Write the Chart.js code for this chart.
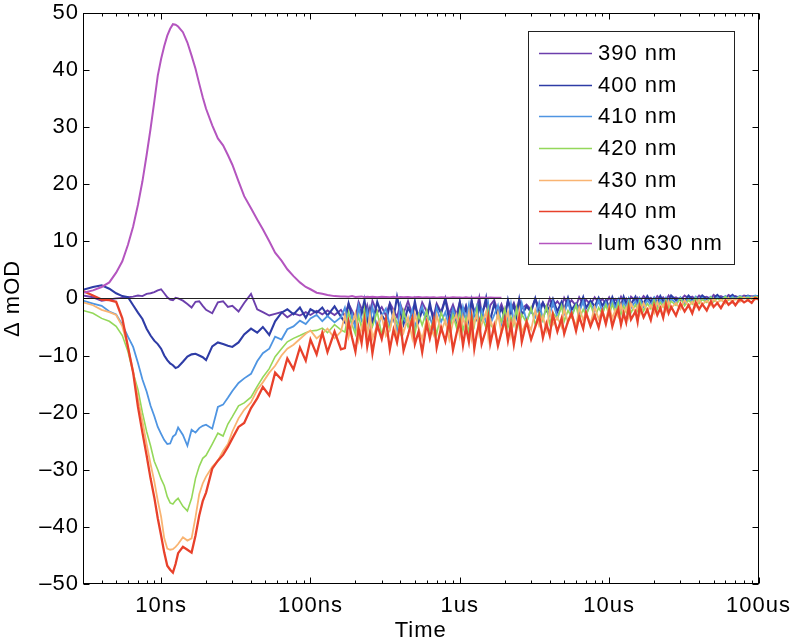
<!DOCTYPE html>
<html><head><meta charset="utf-8">
<script src="https://cdn.jsdelivr.net/npm/chart.js@4"></script>
<style>html,body{margin:0;padding:0;background:#fff}canvas{display:block}</style>
</head><body>
<canvas id="c" width="800" height="642"></canvas>
<script>
// time axis (ns)
const times = [3,3.5,4,4.5,5,5.5,6,6.5,7,7.5,8,8.5,9,9.5,10,10.5,11,11.5,12,12.5,13,14,15,16,17,18,19,20,22,24,26,28,30,33,36,40,44,48,53,58,64,70,77,85,93,100,110,120,130,145,160,
170,180,190,200,210,220,230,240,250,260,280,300,320,340,360,380,400,420,450,480,500,530,560,600,630,670,700,750,800,850,900,950,
1000,1050,1100,1150,1200,1250,1300,1350,1400,1500,1550,1600,1700,1800,1900,2000,2100,2200,2300,2400,2500,2600,2800,3000,3200,3400,3600,3800,4000,4200,4500,4800,5000,5300,5600,6000,6300,6700,7000,7500,8000,8500,9000,9500,
10000,10500,11000,11500,12000,12500,13000,13500,14000,15000,15500,16000,17000,18000,19000,20000,21000,22000,23000,24000,25000,26000,28000,30000,32000,34000,36000,38000,40000,42000,45000,48000,50000,53000,56000,60000,63000,67000,70000,75000,80000,85000,90000,95000,
100000];

const nm390 = [0.5,0.2,-0.4,-0.2,0,0.1,0.2,0.3,0.5,0.4,0.8,0.9,1.1,1.4,1.6,0.9,0.2,-0.2,-0.3,0.1,0.0,-0.4,-1.0,-1.6,-0.6,-0.5,-1.3,-2.0,-2.6,-0.7,-0.5,-1.5,-1.3,-2.3,-0.8,0.8,-1.9,-2.4,-3.0,-2.7,-2.4,-3.3,-2.6,-3.0,-2.4,-2.9,-2.2,-2.8,-2.1,-2.9,-2.0,
-3.1,-0.9,-2.2,-3.4,-0.6,-1.8,-2.9,-1.2,-3.2,-0.4,-2.5,-1.5,-3.0,-0.8,-2.0,-3.3,-1.0,-2.6,-0.5,-2.8,-1.4,-3.1,-0.7,-2.3,-1.7,-3.0,-0.9,-2.4,0.1,-2.7,-1.1,-2.9,
-0.6,-2.7,-1.3,-3.0,-0.5,-2.2,-1.6,0.2,-2.5,-0.9,-2.8,-1.2,-0.3,-2.4,-1.0,-2.6,-0.4,-1.9,-0.8,-2.3,-0.2,-1.8,-1.1,-2.0,-0.1,-1.6,-0.7,-1.9,0.0,-1.4,-0.5,-1.5,0.1,-1.2,-0.3,-1.3,0.2,-1.0,-0.2,-1.1,0.2,-0.8,-0.1,-0.9,
0.2,-0.9,-0.1,-0.7,0.3,-0.6,0.0,-0.8,0.3,-0.4,0.1,-0.6,0.4,-0.3,0.1,-0.5,0.4,-0.2,0.2,-0.4,0.5,-0.1,0.2,-0.3,0.5,0.0,0.3,-0.2,0.5,0.1,0.3,-0.1,0.6,0.1,0.4,0.0,0.6,0.2,0.4,0.1,0.5,0.3,0.4,0.3,
0.4];

const nm400 = [1.5,2.0,2.3,1.7,0.9,0.4,0.2,-1.2,-2.5,-3.6,-5.3,-6.5,-7.4,-8.0,-8.8,-10.0,-10.8,-11.4,-11.7,-12.2,-12.0,-11.1,-10.2,-9.8,-9.7,-10.0,-10.3,-10.8,-8.4,-7.7,-8.0,-8.3,-8.5,-7.7,-6.3,-5.3,-6.0,-5.0,-6.4,-4.0,-2.5,-1.9,-2.8,-1.6,-3.4,-1.9,-2.5,-1.6,-3.0,-1.4,-3.2,
-4.2,-0.9,-3.3,-4.6,-1.4,-2.7,-0.3,-3.9,-1.8,-4.4,-0.6,-2.9,-4.1,-1.1,-3.5,0.3,-2.4,-4.5,-1.6,-3.1,-0.5,-4.0,-2.0,-3.7,-0.8,-4.3,-1.3,-2.6,-0.2,-3.8,-1.9,-4.1,
-0.7,-3.6,-1.5,-4.0,-0.4,-2.8,-3.7,-1.0,-3.3,0.1,-2.5,-3.8,-0.9,-3.1,-1.7,-3.5,-0.3,-2.6,-1.2,-3.2,-0.2,-2.9,-1.4,-2.4,0.0,-2.7,-0.8,-2.2,-1.5,-0.1,-2.3,-0.6,-1.9,0.1,-2.0,-0.9,-1.6,0.2,-1.7,-0.4,-1.4,0.1,-1.3,-0.3,
-1.4,0.2,-1.1,-0.2,-1.2,0.3,-0.9,-0.1,-1.0,0.3,-0.8,0.0,-0.9,0.4,-0.6,0.1,-0.7,0.4,-0.5,0.0,-0.5,0.5,-0.3,0.1,-0.4,0.5,-0.2,0.2,-0.2,0.5,-0.1,0.2,0.0,0.6,0.0,0.3,0.1,0.6,0.1,0.3,0.2,0.5,0.2,0.4,
0.4];

const nm410 = [-0.4,-0.9,-1.3,-2.3,-2.8,-4.6,-6.7,-8.5,-11.3,-14.2,-16.3,-18.8,-20.6,-22.5,-23.7,-24.8,-25.5,-25.4,-24.2,-23.8,-22.6,-23.9,-25.8,-23.0,-23.5,-22.7,-22.3,-22.1,-22.8,-19.0,-18.6,-17.4,-16.2,-14.8,-14.0,-13.2,-11.0,-9.6,-8.8,-6.7,-7.2,-5.4,-4.9,-3.9,-4.5,-3.5,-2.9,-4.0,-3.1,-4.2,-3.3,
-1.6,-4.9,-2.8,-5.5,-1.3,-3.9,-5.1,-2.2,-4.4,-1.5,-5.3,-3.0,-1.8,-4.7,-2.5,-5.6,-1.2,-3.6,-4.8,-2.0,-5.0,-2.9,-1.4,-4.5,-3.3,-5.4,-1.7,-4.1,-2.4,-5.2,-1.9,-3.7,
-5.0,-1.5,-3.8,-1.1,-4.7,-2.6,-1.3,-4.9,-2.0,-4.2,-1.0,-4.5,-2.9,-1.2,-4.4,-2.2,-3.9,-0.9,-4.1,-1.8,-3.6,-0.8,-3.9,-2.1,-3.3,-0.7,-3.7,-1.5,-3.0,-0.6,-3.4,-1.3,-2.7,-0.5,-3.0,-1.1,-2.5,-0.4,-2.8,-0.9,-2.2,-0.3,-2.4,-0.7,
-2.1,-0.4,-1.8,-0.2,-2.0,-0.6,-1.6,-0.1,-1.7,-0.5,-1.4,0.0,-1.5,-0.3,-1.2,0.1,-1.3,-0.2,-1.0,0.1,-1.1,-0.1,-0.8,0.2,-0.9,0.0,-0.6,0.3,-0.7,0.1,-0.5,0.3,-0.4,0.2,-0.3,0.4,-0.2,0.3,-0.1,0.4,0.0,0.4,0.1,0.5,
0.3];

const nm420 = [-2.1,-2.6,-3.5,-4.0,-4.9,-6.5,-9.3,-13.0,-16.0,-20.0,-23.3,-25.8,-28.5,-30.0,-31.6,-32.8,-34.7,-35.8,-36.0,-35.4,-35.0,-36.4,-37.2,-35.0,-31.5,-29.4,-28.0,-27.5,-25.5,-23.6,-24.1,-22.0,-20.7,-18.8,-18.3,-17.3,-15.4,-13.8,-12.3,-10.2,-8.8,-7.6,-7.0,-6.5,-6.0,-5.7,-5.6,-5.2,-6.0,-4.6,-5.5,
-5.9,-2.4,-4.6,-6.3,-3.1,-5.2,-2.0,-6.0,-3.8,-4.9,-2.3,-6.4,-3.5,-5.5,-2.6,-4.3,-6.1,-2.2,-5.0,-3.3,-6.2,-2.8,-4.7,-2.1,-5.7,-3.6,-6.3,-2.5,-4.4,-5.8,-2.9,-5.1,
-2.2,-5.6,-3.4,-6.0,-2.7,-4.8,-1.9,-5.7,-3.0,-5.2,-2.0,-4.5,-5.5,-2.6,-4.1,-1.8,-5.1,-3.2,-4.7,-1.7,-5.0,-2.8,-4.3,-1.6,-4.6,-2.4,-3.9,-1.4,-4.4,-2.5,-3.6,-1.3,-4.0,-2.1,-3.3,-1.2,-3.7,-1.9,-3.0,-1.0,-3.4,-1.6,-2.8,-1.1,
-3.0,-1.0,-2.6,-0.8,-2.8,-1.3,-2.4,-0.6,-2.5,-1.1,-2.1,-0.5,-2.2,-0.9,-1.8,-0.3,-1.9,-0.7,-1.5,-0.2,-1.6,-0.5,-1.2,0.0,-1.3,-0.3,-1.0,0.1,-0.9,-0.2,-0.7,0.2,-0.6,0.0,-0.4,0.3,-0.3,0.1,-0.2,0.3,0.0,0.2,-0.1,0.3,
0.2];

const nm430 = [-0.7,-1.2,-2.0,-2.4,-2.9,-4.9,-8.5,-12.8,-17.5,-21.5,-25.5,-29.0,-32.0,-35.4,-38.2,-42.0,-43.8,-44.0,-43.9,-43.5,-43.0,-41.8,-42.4,-42.0,-38.3,-34.3,-32.4,-31.2,-29.5,-28.4,-26.7,-25.5,-23.3,-21.0,-19.5,-18.2,-16.0,-14.7,-13.0,-11.8,-10.0,-8.8,-8.1,-7.1,-6.2,-5.6,-7.0,-6.2,-5.3,-7.0,-5.8,
-3.0,-6.8,-4.4,-2.6,-7.3,-5.1,-3.4,-6.2,-2.8,-7.0,-4.7,-3.1,-6.6,-5.5,-2.5,-7.4,-4.0,-6.0,-3.3,-6.9,-2.7,-5.3,-7.1,-3.6,-4.9,-6.5,-2.9,-5.8,-3.8,-7.2,-4.2,-2.8,
-6.6,-3.2,-5.4,-2.5,-6.9,-4.1,-2.9,-6.3,-4.6,-2.3,-6.7,-3.7,-5.8,-2.6,-6.1,-4.3,-2.4,-6.4,-3.5,-5.2,-2.2,-6.0,-3.9,-5.5,-2.1,-4.8,-3.1,-5.6,-2.0,-4.6,-3.3,-5.0,-1.8,-4.2,-2.7,-4.9,-1.6,-3.8,-2.4,-4.4,-1.5,-3.6,-2.1,-3.9,
-1.3,-3.5,-2.0,-3.2,-1.1,-2.9,-1.6,-3.3,-0.9,-2.5,-1.4,-2.8,-0.8,-2.3,-1.2,-2.6,-0.6,-2.0,-1.0,-2.2,-0.5,-1.7,-0.8,-1.9,-0.3,-1.4,-0.6,-1.5,-0.2,-1.1,-0.4,-1.2,0.0,-0.8,-0.2,-0.9,0.1,-0.5,0.0,-0.6,0.2,-0.3,0.2,-0.2,
0.1];

const nm440 = [1.3,0.5,-0.2,-0.3,-0.6,-3.5,-8.5,-13.0,-19.0,-23.5,-27.5,-31.5,-34.8,-38.5,-41.5,-44.5,-46.8,-47.5,-48.0,-46.5,-44.6,-43.5,-44.0,-44.5,-41.5,-38.0,-35.5,-34.0,-29.8,-28.4,-27.4,-26.0,-24.5,-22.5,-21.8,-19.2,-17.5,-15.5,-17.0,-13.0,-14.2,-10.5,-12.4,-8.6,-10.9,-7.2,-9.8,-6.0,-9.4,-5.8,-8.9,
-8.7,-4.1,-6.9,-9.3,-5.2,-7.8,-3.9,-8.4,-6.0,-9.6,-4.6,-7.1,-3.7,-8.9,-5.5,-7.7,-4.3,-9.1,-6.4,-3.6,-8.0,-5.8,-9.4,-4.4,-7.0,-3.8,-8.6,-5.1,-7.5,-4.0,-9.0,-6.2,
-3.9,-8.2,-5.0,-7.6,-3.5,-8.8,-6.1,-4.2,-8.0,-5.4,-3.4,-7.9,-4.8,-8.3,-5.9,-3.6,-7.4,-4.5,-8.1,-5.2,-3.3,-7.6,-4.1,-7.2,-5.0,-3.0,-6.9,-4.4,-6.5,-2.8,-5.8,-3.5,-6.2,-4.0,-2.6,-5.7,-3.2,-5.3,-2.5,-4.9,-3.0,-5.1,-2.2,-4.5,
-2.0,-4.9,-3.1,-1.8,-4.6,-2.6,-4.2,-1.6,-3.7,-2.3,-4.1,-1.4,-3.3,-2.0,-3.8,-1.2,-2.9,-1.7,-3.4,-1.0,-2.6,-1.5,-3.0,-0.9,-2.3,-1.2,-2.6,-0.7,-1.9,-1.0,-2.1,-0.5,-1.5,-0.8,-1.7,-0.3,-1.1,-0.5,-1.2,-0.1,-0.7,-0.3,-0.8,0.1,
-0.2];

// luminescence trace ends near 1.9 us
const lum630 = [1.0,1.4,2.0,2.8,4.5,6.5,9.4,12.6,16.4,20.5,25.1,29.7,34.4,39.0,41.9,44.2,46.0,47.2,48.0,47.9,47.6,46.6,44.8,42.5,40.2,37.6,35.2,33.2,30.3,28.0,26.8,25.1,23.4,20.5,17.9,15.8,13.8,12.1,10.0,8.0,6.6,5.1,3.9,2.8,2.0,1.6,1.0,0.8,0.6,0.4,0.35,
0.35,0.3,0.4,0.25,0.3,0.35,0.2,0.3,0.25,0.3,0.2,0.3,0.25,0.2,0.3,0.15,0.25,0.2,0.25,0.15,0.2,0.25,0.15,0.2,0.15,0.2,0.1,0.2,0.15,0.1,0.2,0.15,
0.15,0.1,0.2,0.1,0.15,0.1,0.15,0.1,0.15,0.1,0.1,0.15,0.1,0.1,0.1];

const seriesLabels = ['390 nm','400 nm','410 nm','420 nm','430 nm','440 nm','lum 630 nm'];
const seriesColors = ['#6c3fac','#2e3ca6','#4f95e2','#94d85a','#f9b472','#e8412b','#b455bf'];
const seriesWidths = [1.9,2.1,1.8,1.6,1.8,2.3,2];
const xTickValues = [10,100,1000,10000,100000];
const xTickLabels = ['10ns','100ns','1us','10us','100us'];
const yTickValues = [-50,-40,-30,-20,-10,0,10,20,30,40,50];

const seriesValues = [nm390,nm400,nm410,nm420,nm430,nm440,lum630];
const datasets = seriesValues.map((vals,i)=>({
  label: seriesLabels[i],
  data: vals.map((v,j)=>({x:times[j],y:v})),
  borderColor: seriesColors[i],
  backgroundColor: seriesColors[i],
  borderWidth: seriesWidths[i],
  pointRadius: 0,
  fill: false,
  tension: 0,
  order: seriesLabels.length - 1 - i
}));

const FONT = '"Liberation Sans", Arial, Helvetica, sans-serif';
Chart.defaults.font.family = FONT;
Chart.defaults.color = '#000';

const framePlugin = {
  id: 'frame',
  beforeInit(chart){ chart.ctx.letterSpacing = '1px'; },
  beforeUpdate(chart){ chart.ctx.letterSpacing = '1px'; },
  beforeDraw(chart){ chart.ctx.letterSpacing = '1px'; },
  afterDatasetsDraw(chart){
    const {ctx, chartArea:a, scales:{x,y}} = chart;
    ctx.save();
    ctx.lineWidth = 1;
    const L = Math.round(a.left)+0.5, R = Math.round(a.right)-0.5, T = Math.round(a.top)+0.5, B = Math.round(a.bottom)-0.5;
    const y0 = Math.round(y.getPixelForValue(0))+0.5;
    ctx.strokeStyle = '#222';
    ctx.beginPath(); ctx.moveTo(L,y0); ctx.lineTo(R,y0); ctx.stroke();
    ctx.strokeStyle = '#000';
    ctx.strokeRect(L,T,R-L,B-T);
    ctx.beginPath();
    yTickValues.forEach(v=>{
      const p = Math.round(y.getPixelForValue(v))+0.5;
      ctx.moveTo(L,p); ctx.lineTo(L+6,p);
      ctx.moveTo(R,p); ctx.lineTo(R-6,p);
    });
    for (let d=1; d<=100000; d*=10) {
      for (let k=1; k<=9; k++) {
        const v = d*k;
        if (v < x.min || v > x.max) continue;
        const len = k===1 ? 6 : 3;
        const p = Math.round(x.getPixelForValue(v))+0.5;
        ctx.moveTo(p,B); ctx.lineTo(p,B-len);
        ctx.moveTo(p,T); ctx.lineTo(p,T+len);
      }
    }
    ctx.stroke();
    ctx.restore();
  },
  afterDraw(chart){
    const {ctx, chartArea:a} = chart;
    ctx.save();
    const bx = Math.round(a.right) - 231, by = Math.round(a.top) + 18, bw = 206, bh = 233;
    ctx.fillStyle = '#fff'; ctx.fillRect(bx,by,bw,bh);
    ctx.strokeStyle = '#222'; ctx.lineWidth = 1;
    ctx.strokeRect(bx+0.5,by+0.5,bw,bh);
    ctx.font = '22px ' + FONT;
    ctx.letterSpacing = '1px';
    ctx.textBaseline = 'middle'; ctx.textAlign = 'left';
    const rowH = 31.67;
    seriesLabels.forEach((lab,i)=>{
      const cy = by + 22 + i*rowH;
      ctx.strokeStyle = seriesColors[i]; ctx.lineWidth = 1.5;
      ctx.beginPath(); ctx.moveTo(bx+11, Math.round(cy)+0.5); ctx.lineTo(bx+64, Math.round(cy)+0.5); ctx.stroke();
      ctx.fillStyle = '#000';
      ctx.fillText(lab, bx+70, cy+1);
    });
    ctx.restore();
  }
};

new Chart(document.getElementById('c'), {
  type: 'line',
  data: { datasets },
  plugins: [framePlugin],
  options: {
    responsive: false,
    animation: false,
    devicePixelRatio: 1,
    layout: { padding: { left: 0, right: 36, top: 10, bottom: 0 } },
    plugins: { legend: { display: false }, tooltip: { enabled: false } },
    scales: {
      x: {
        type: 'logarithmic', min: 3, max: 100000,
        grid: { display: false, drawTicks: false },
        border: { display: false },
        afterBuildTicks: s => { s.ticks = xTickValues.map(v => ({ value: v })); },
        ticks: {
          autoSkip: false, maxRotation: 0, minRotation: 0, padding: 9,
          font: { size: 22 }, color: '#000',
          callback: v => { const k = xTickValues.indexOf(v); return k >= 0 ? xTickLabels[k] : ''; }
        },
        title: { display: true, text: 'Time', font: { size: 22, lineHeight: 1 }, padding: { top: 0, bottom: 0 }, color: '#000' },
        afterFit: s => { s.height = 58; }
      },
      y: {
        min: -50, max: 50,
        afterBuildTicks: s => { s.ticks = yTickValues.map(v => ({ value: v })); },
        grid: { display: false, drawTicks: false },
        border: { display: false },
        ticks: {
          padding: 4, font: { size: 22, lineHeight: 0.8 }, color: '#000',
          callback: v => v < 0 ? '\u2013' + Math.abs(v) : String(v)
        },
        title: { display: true, text: '\u0394 mOD', font: { size: 22, lineHeight: 1 }, padding: { top: 2, bottom: 0 }, color: '#000' },
        afterFit: s => { s.width = 83; }
      }
    }
  }
});
</script>
</body></html>
